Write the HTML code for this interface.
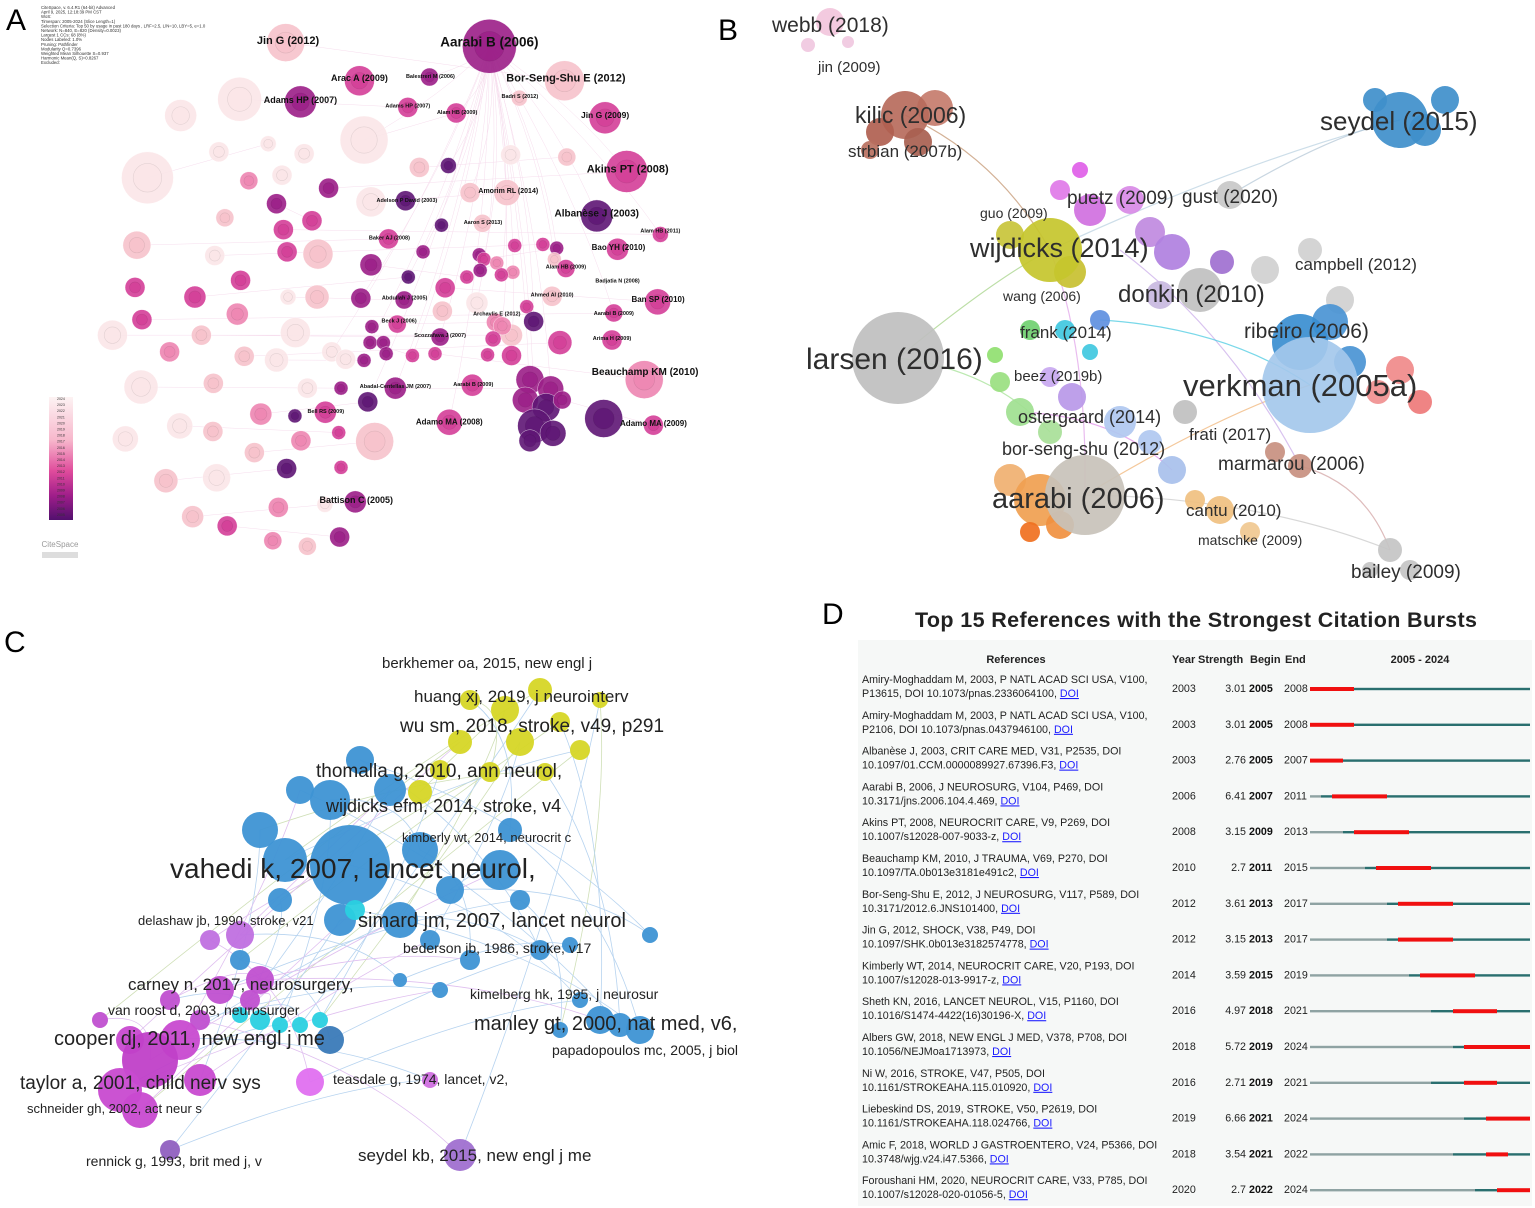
<!DOCTYPE html>
<html><head><meta charset="utf-8"><style>
html,body{margin:0;padding:0;background:#fff}
svg{display:block}
text{font-family:"Liberation Sans",sans-serif}
</style></head><body>
<svg id="s" width="1535" height="1208" viewBox="0 0 1535 1208" xmlns="http://www.w3.org/2000/svg">
<rect width="1535" height="1208" fill="#fff"/>
<g id="pa"></g>
<g id="pb"></g>
<g id="pc"></g>
<g id="pd"></g>
<text x="6" y="30" font-size="30">A</text>
<text x="718" y="40" font-size="30">B</text>
<text x="4" y="652" font-size="30">C</text>
<text x="822" y="624" font-size="30">D</text>
</svg>
<script>
const NS="http://www.w3.org/2000/svg";
function mk(p,t,a){const e=document.createElementNS(NS,t);for(const k in a)e.setAttribute(k,a[k]);p.appendChild(e);return e;}
// ---------- Panel A ----------
const aPal={w:"#fbe6e8",l:"#f7c3cc",p:"#ee86b2",m:"#d43f98",d:"#9c1f88",u:"#5f1675"};
const aNodes=[[1062,125,27,"d"],[620,115,19,"l"],[780,218,15,"m"],[932,208,9,"d"],[1225,218,20,"l"],[520,268,22,"w"],[652,275,16,"d"],[392,312,16,"w"],[885,290,10,"m"],[990,305,10,"m"],[1127,265,8,"l"],[1313,318,16,"m"],[790,378,24,"w"],[582,388,8,"w"],[475,410,10,"w"],[660,415,10,"w"],[320,480,26,"w"],[910,452,10,"l"],[973,447,8,"u"],[1108,418,10,"w"],[1230,424,9,"l"],[1360,463,21,"m"],[540,488,9,"p"],[612,473,10,"w"],[713,508,10,"d"],[805,545,15,"w"],[880,542,10,"u"],[1020,520,10,"l"],[1100,520,13,"l"],[600,550,10,"d"],[1295,583,16,"u"],[488,588,9,"l"],[677,596,10,"m"],[615,620,10,"m"],[958,608,7,"u"],[1047,603,9,"l"],[1433,633,8,"m"],[297,662,14,"l"],[623,680,10,"m"],[690,686,15,"l"],[843,645,10,"m"],[466,690,10,"w"],[918,680,7,"d"],[1117,663,7,"m"],[1178,660,7,"m"],[1208,670,7,"d"],[1340,673,11,"m"],[1040,688,7,"d"],[1050,700,7,"m"],[1078,710,7,"p"],[1113,735,7,"p"],[1088,742,7,"m"],[1042,730,7,"d"],[1013,748,7,"m"],[1203,700,7,"l"],[1228,725,9,"m"],[805,715,11,"d"],[886,748,7,"u"],[293,776,10,"m"],[522,757,10,"m"],[423,802,11,"m"],[625,802,8,"w"],[688,802,12,"l"],[783,805,10,"d"],[877,810,9,"d"],[966,777,10,"m"],[1035,818,11,"w"],[1198,800,10,"l"],[1427,815,13,"m"],[1332,845,9,"m"],[1143,828,7,"m"],[515,848,11,"p"],[308,863,10,"m"],[862,875,9,"m"],[960,840,10,"l"],[1158,868,10,"u"],[1075,870,9,"p"],[1110,905,11,"l"],[1090,880,9,"p"],[1070,915,8,"m"],[244,905,15,"w"],[437,905,10,"l"],[641,898,15,"w"],[807,882,7,"d"],[955,910,9,"d"],[1215,925,12,"m"],[1328,918,10,"m"],[368,950,10,"p"],[530,962,10,"l"],[600,972,12,"w"],[720,950,10,"w"],[750,970,10,"w"],[790,973,7,"d"],[803,925,7,"d"],[832,925,7,"d"],[838,955,7,"d"],[895,960,7,"m"],[944,955,7,"m"],[1058,958,7,"m"],[1110,960,10,"m"],[1398,1025,19,"p"],[306,1045,17,"w"],[463,1035,10,"l"],[667,1048,10,"w"],[740,1048,7,"d"],[858,1048,11,"d"],[1025,1040,11,"m"],[1150,1025,14,"d"],[1195,1050,13,"d"],[1140,1080,13,"d"],[1185,1100,14,"u"],[1160,1150,17,"u"],[1200,1170,13,"u"],[1220,1080,9,"d"],[1150,1190,11,"u"],[1310,1130,19,"u"],[1418,1148,10,"m"],[798,1085,10,"u"],[706,1113,11,"m"],[640,1123,7,"u"],[566,1118,11,"p"],[390,1150,13,"w"],[462,1165,10,"l"],[975,1140,13,"m"],[735,1168,7,"m"],[813,1192,19,"l"],[272,1185,13,"w"],[653,1190,10,"p"],[552,1222,10,"l"],[622,1265,10,"u"],[740,1262,7,"m"],[470,1290,14,"w"],[360,1298,12,"l"],[771,1355,11,"d"],[705,1362,8,"w"],[604,1370,10,"p"],[418,1395,11,"l"],[493,1420,10,"m"],[592,1460,9,"p"],[667,1475,9,"l"],[737,1450,10,"d"]];
const aLabels=[["Aarabi B (2006)",1062,113,13.5],["Jin G (2012)",625,108,11],["Arac A (2009)",780,210,9],["Balestreri M (2006)",934,205,5.5],["Bor-Seng-Shu E (2012)",1228,210,11],["Adams HP (2007)",652,270,9],["Adams HP (2007)",885,285,5.5],["Alam HB (2009)",992,302,5.5],["Badri S (2012)",1128,260,5.5],["Jin G (2009)",1313,311,8.5],["Akins PT (2008)",1362,455,11],["Amorim RL (2014)",1103,515,7],["Adelson P David (2003)",883,540,5.5],["Albanèse J (2003)",1295,575,10],["Aaron S (2013)",1048,600,5.5],["Alam HB (2011)",1433,623,5.5],["Baker AJ (2008)",845,642,5.5],["Bao YH (2010)",1342,668,8],["Alam HB (2009)",1228,720,5.5],["Badjatia N (2008)",1340,757,5.5],["Abdullah J (2005)",878,803,5.5],["Ahmed AI (2010)",1198,795,5.5],["Ban SP (2010)",1428,808,8],["Aarabi B (2009)",1332,845,5.5],["Archavlis E (2012)",1078,847,5.5],["Beck J (2006)",866,866,5.5],["Scozzafava J (2007)",955,905,5.5],["Arima H (2009)",1328,913,5.5],["Beauchamp KM (2010)",1400,1003,10],["Abadal-Centellas JM (2007)",858,1043,5.5],["Aarabi B (2009)",1027,1037,5.5],["Bell RS (2009)",707,1110,5.5],["Adamo MA (2008)",975,1138,8],["Adamo MA (2009)",1418,1143,8],["Battison C (2005)",773,1350,9]];
(function(){
 const g=document.getElementById('pa');
 const X=v=>v/2.17, Y=v=>v/2.7;
 const eg=mk(g,'g',{stroke:"#e9a9d2","stroke-width":"0.5",opacity:"0.4",fill:"none"});
 aNodes.forEach((n,i)=>{ if(X(n[0])>330 && i%3===0){const p=mk(eg,'path',{d:`M${X(1062)},${Y(125)} Q${(X(1062)+X(n[0]))/2+20},${(Y(125)+Y(n[1]))/2} ${X(n[0])},${Y(n[1])}`});
  }
  if(i%4===0 && i>3){const m=aNodes[i-3];const l=mk(eg,'line',{x1:X(n[0]),y1:Y(n[1]),x2:X(m[0]),y2:Y(m[1])});
  }});
 aNodes.forEach(n=>{const c=mk(g,'circle',{cx:X(n[0]),cy:Y(n[1]),r:n[2],fill:aPal[n[3]],opacity:"0.9",stroke:"#fff","stroke-width":"0.4"});
  
  const c2=mk(g,'circle',{cx:X(n[0]),cy:Y(n[1]),r:n[2]*0.55,fill:aPal[n[3]],opacity:"0.8",stroke:"rgba(0,0,0,0.12)","stroke-width":"0.6"});
  });
 aLabels.forEach(l=>{const t=mk(g,'text',{x:X(l[1]),y:Y(l[2])+l[3]*0.35,"font-size":l[3],"font-weight":"bold","text-anchor":"middle",fill:"#111"});t.textContent=l[0];
  });
 const info=["CiteSpace, v. 6.4.R1 (64-bit) Advanced","April 9, 2025, 12:18:39 PM CST","WoS:","Timespan: 2005-2024 (Slice Length=1)","Selection Criteria: Top 50 by usage in past 180 days , LRF=2.5, L/N=10, LBY=5, e=1.0","Network: N=840, E=820 (Density=0.0023)","Largest 1 CCs: 68 (8%)","Nodes Labeled: 1.0%","Pruning: Pathfinder","Modularity Q=0.7396","Weighted Mean Silhouette S=0.937","Harmonic Mean(Q, S)=0.8267","Excluded:"];
 info.forEach((s,i)=>{const t=mk(g,'text',{x:41,y:9+i*4.6,"font-size":"4.3",fill:"#333"});t.textContent=s;});
 const defs=mk(g,'defs',{});const lg=mk(defs,'linearGradient',{id:"yrg",x1:0,y1:0,x2:0,y2:1});
 [["0","#fdf3f3"],["0.35","#f7b7cc"],["0.6","#e04c9c"],["0.8","#a01e8a"],["1","#52106e"]].forEach(s=>mk(lg,'stop',{offset:s[0],"stop-color":s[1]}));
 const cb=mk(g,'rect',{x:49,y:397,width:24,height:123,fill:"url(#yrg)"});
 for(let i=0;i<20;i++){const t=mk(g,'text',{x:57,y:400+i*6.1,"font-size":"3.5",fill:"#333"});t.textContent=2024-i;}
 const lo=mk(g,'text',{x:60,y:547,"font-size":"8","text-anchor":"middle",fill:"#999"});lo.textContent="CiteSpace";
 mk(g,'rect',{x:42,y:552,width:36,height:6,fill:"#ddd"});
})();
// ---------- Panel B ----------
const bNodes=[[830,22,14,"#f2c6dc"],[808,45,7,"#f0c8e0"],[848,42,6,"#f0c8e0"],[935,108,18,"#c57c6c"],[905,115,24,"#b76b5c"],[880,132,14,"#b06050"],[918,142,14,"#a86050"],[870,150,9,"#b87060"],[1375,100,12,"#3f8fcb"],[1445,100,14,"#3f8fcb"],[1425,130,16,"#3f8fcb"],[1400,120,28,"#3f8fcb"],[1060,190,10,"#e07ae8"],[1080,170,8,"#e060e8"],[1090,210,16,"#d070e0"],[1130,200,14,"#d88ae6"],[1150,232,15,"#c08ae0"],[1172,252,18,"#b080e0"],[1222,262,12,"#a070d0"],[1230,195,14,"#c8c8c8"],[1010,235,14,"#c8c43a"],[1070,272,16,"#c8c030"],[1050,250,32,"#c6c52c"],[1265,270,14,"#d0d0d0"],[1310,250,12,"#d0d0d0"],[1340,300,14,"#d0d0d0"],[1160,295,14,"#c8b8e0"],[1200,290,22,"#c0c0c0"],[1330,322,18,"#4a94d4"],[1300,342,28,"#3a8ed0"],[1350,362,16,"#4a94d4"],[1400,370,14,"#f08a8a"],[1420,402,12,"#ee7a7a"],[1378,392,12,"#f09090"],[1310,385,48,"#a4c8ec"],[898,358,46,"#bfbfbf"],[995,355,8,"#90e070"],[1030,330,10,"#70d070"],[1000,382,10,"#9ae080"],[1020,412,14,"#a0e090"],[1050,432,12,"#a8e098"],[1065,330,10,"#40c8e0"],[1090,352,8,"#40c8e0"],[1100,320,10,"#6090e0"],[1050,377,10,"#c8a8f0"],[1072,397,14,"#b898e8"],[1120,422,16,"#b0c8f0"],[1150,442,12,"#b0c8f0"],[1172,470,14,"#a8c0ec"],[1185,412,12,"#c0c0c0"],[1010,480,16,"#f0b070"],[1040,500,26,"#f0a050"],[1060,525,14,"#f09040"],[1030,532,10,"#f07020"],[1085,495,40,"#c8c2ba"],[1195,500,10,"#f0c080"],[1220,510,14,"#f0c080"],[1250,532,10,"#f0c890"],[1275,452,10,"#c89080"],[1300,466,12,"#c89080"],[1370,570,8,"#c4c4c4"],[1390,550,12,"#c4c4c4"],[1410,570,10,"#c4c4c4"]];
const bLabels=[["webb (2018)",772,32,21],["jin (2009)",818,72,15],["kilic (2006)",855,123,23],["strbian (2007b)",848,157,17],["seydel (2015)",1320,130,26],["puetz (2009)",1067,204,19],["gust (2020)",1182,203,19],["guo (2009)",980,218,14],["wijdicks (2014)",970,257,27],["campbell (2012)",1295,270,17],["donkin (2010)",1118,302,24],["wang (2006)",1003,301,14],["ribeiro (2006)",1244,338,21],["frank (2014)",1020,338,17],["larsen (2016)",806,369,30],["verkman (2005a)",1183,396,31],["beez (2019b)",1014,381,15],["ostergaard (2014)",1018,423,18],["frati (2017)",1189,440,17],["bor-seng-shu (2012)",1002,455,18],["marmarou (2006)",1218,470,19],["aarabi (2006)",992,508,29],["cantu (2010)",1186,516,17],["matschke (2009)",1198,545,14],["bailey (2009)",1351,578,19]];
(function(){
 const g=document.getElementById('pb');
 const ed=[[905,115,1050,250,"#c0906a"],[1050,250,1400,120,"#b8d0e0"],[1230,195,1400,120,"#b0c4d4"],[1050,250,898,358,"#a0d080"],[1085,495,1310,385,"#f0b070"],[1085,495,1390,550,"#c8c8c8"],[1120,250,1300,466,"#c8a8e8"],[1050,250,1085,495,"#e0a0e8"],[1100,320,1310,385,"#40c8e0"],[1300,466,1390,550,"#d0a0a0"],[1020,412,1172,470,"#e08ae8"],[898,358,1050,432,"#a0e090"]];
 ed.forEach(e=>{const p=mk(g,'path',{d:`M${e[0]},${e[1]} Q${(e[0]+e[2])/2+20},${(e[1]+e[3])/2-25} ${e[2]},${e[3]}`,stroke:e[4],"stroke-width":"1.2",fill:"none",opacity:"0.7"});
  });
 bNodes.forEach(n=>{const c=mk(g,'circle',{cx:n[0],cy:n[1],r:n[2],fill:n[3],opacity:"0.92"});});
 bLabels.forEach(l=>{const t=mk(g,'text',{x:l[1],y:l[2],"font-size":l[3],fill:"#2e2e2e"});t.textContent=l[0];});
})();
// ---------- Panel C ----------
const cNodes=[[470,700,10,"#d6d626"],[540,690,12,"#d6d626"],[505,710,14,"#d6d626"],[560,722,10,"#d6d626"],[600,700,8,"#d6d626"],[520,742,14,"#d6d626"],[460,742,12,"#d6d626"],[580,750,10,"#d6d626"],[440,770,10,"#d6d626"],[420,792,12,"#d6d626"],[545,772,9,"#d6d626"],[490,772,10,"#d6d626"],[360,760,14,"#3e93d4"],[300,790,14,"#3e93d4"],[330,800,20,"#3e93d4"],[390,790,16,"#3e93d4"],[260,830,18,"#3e93d4"],[510,830,12,"#3e93d4"],[285,860,22,"#3e93d4"],[420,850,18,"#3e93d4"],[500,870,20,"#3e93d4"],[450,890,14,"#3e93d4"],[350,865,40,"#3e93d4"],[280,900,12,"#3e93d4"],[520,900,10,"#3e93d4"],[400,920,18,"#3e93d4"],[340,920,16,"#3e93d4"],[430,940,10,"#3e93d4"],[650,935,8,"#3e93d4"],[470,960,10,"#3e93d4"],[540,950,10,"#3e93d4"],[570,945,8,"#3e93d4"],[240,960,10,"#3e93d4"],[400,980,7,"#3e93d4"],[440,990,8,"#3e93d4"],[580,1000,8,"#3e93d4"],[600,1020,14,"#3e93d4"],[620,1025,12,"#3e93d4"],[640,1030,14,"#3e93d4"],[560,1030,8,"#3e93d4"],[330,1040,14,"#3a7ab8"],[355,910,10,"#2ad0e0"],[240,1015,8,"#2ad0e0"],[260,1020,10,"#2ad0e0"],[280,1025,8,"#2ad0e0"],[300,1025,8,"#2ad0e0"],[320,1020,8,"#2ad0e0"],[240,935,14,"#c070e0"],[210,940,10,"#c070e0"],[220,990,14,"#c050d0"],[260,980,14,"#c050d0"],[250,1000,10,"#c050d0"],[170,1000,10,"#c050d0"],[100,1020,8,"#c050d0"],[200,1020,10,"#c050d0"],[130,1040,14,"#c84ad0"],[180,1040,20,"#c84ad0"],[150,1060,28,"#c040c8"],[200,1080,16,"#c84ad0"],[120,1090,22,"#c84ad0"],[140,1110,18,"#c84ad0"],[310,1082,14,"#e070f0"],[430,1080,8,"#d070e0"],[170,1150,10,"#9060c0"],[460,1155,16,"#a070d0"]];
const cLabels=[["berkhemer oa, 2015, new engl j",382,668,15],["huang xj, 2019, j neurointerv",414,702,17],["wu sm, 2018, stroke, v49, p291",400,732,19],["thomalla g, 2010, ann neurol,",316,777,19],["wijdicks efm, 2014, stroke, v4",326,812,18],["kimberly wt, 2014, neurocrit c",402,842,13],["vahedi k, 2007, lancet neurol,",170,878,28],["delashaw jb, 1990, stroke, v21",138,925,13],["simard jm, 2007, lancet neurol",358,927,20],["bederson jb, 1986, stroke, v17",403,953,14],["carney n, 2017, neurosurgery,",128,990,17],["van roost d, 2003, neurosurger",108,1015,14],["kimelberg hk, 1995, j neurosur",470,999,14],["manley gt, 2000, nat med, v6,",474,1030,20],["cooper dj, 2011, new engl j me",54,1045,20],["papadopoulos mc, 2005, j biol",552,1055,14],["taylor a, 2001, child nerv sys",20,1089,19],["teasdale g, 1974, lancet, v2,",333,1084,14],["schneider gh, 2002, act neur s",27,1113,13],["rennick g, 1993, brit med j, v",86,1166,14],["seydel kb, 2015, new engl j me",358,1161,17]];
(function(){
 const g=document.getElementById('pc');
 const eg=mk(g,'g',{fill:"none","stroke-width":"0.8",opacity:"0.5"});
 cNodes.forEach((n,i)=>{const m=cNodes[(i*7+11)%cNodes.length];const col=n[3]==="#d6d626"?"#a0c070":(n[3].startsWith("#c")||n[3].startsWith("#e")?"#c080e0":"#70a8e0");
  const p=mk(eg,'path',{d:`M${n[0]},${n[1]} Q${(n[0]+m[0])/2+30},${(n[1]+m[1])/2-30} ${m[0]},${m[1]}`,stroke:col});
  });
 cNodes.forEach(n=>{const c=mk(g,'circle',{cx:n[0],cy:n[1],r:n[2],fill:n[3],opacity:"0.95"});});
 cLabels.forEach(l=>{const t=mk(g,'text',{x:l[1],y:l[2],"font-size":l[3],fill:"#222"});t.textContent=l[0];});
})();
// ---------- Panel D ----------
const refL1=["Amiry-Moghaddam M, 2003, P NATL ACAD SCI USA, V100,","Amiry-Moghaddam M, 2003, P NATL ACAD SCI USA, V100,","Albanèse J, 2003, CRIT CARE MED, V31, P2535, DOI","Aarabi B, 2006, J NEUROSURG, V104, P469, DOI","Akins PT, 2008, NEUROCRIT CARE, V9, P269, DOI","Beauchamp KM, 2010, J TRAUMA, V69, P270, DOI","Bor-Seng-Shu E, 2012, J NEUROSURG, V117, P589, DOI","Jin G, 2012, SHOCK, V38, P49, DOI","Kimberly WT, 2014, NEUROCRIT CARE, V20, P193, DOI","Sheth KN, 2016, LANCET NEUROL, V15, P1160, DOI","Albers GW, 2018, NEW ENGL J MED, V378, P708, DOI","Ni W, 2016, STROKE, V47, P505, DOI","Liebeskind DS, 2019, STROKE, V50, P2619, DOI","Amic F, 2018, WORLD J GASTROENTERO, V24, P5366, DOI","Foroushani HM, 2020, NEUROCRIT CARE, V33, P785, DOI"];
const refL2=["P13615, DOI 10.1073/pnas.2336064100, ","P2106, DOI 10.1073/pnas.0437946100, ","10.1097/01.CCM.0000089927.67396.F3, ","10.3171/jns.2006.104.4.469, ","10.1007/s12028-007-9033-z, ","10.1097/TA.0b013e3181e491c2, ","10.3171/2012.6.JNS101400, ","10.1097/SHK.0b013e3182574778, ","10.1007/s12028-013-9917-z, ","10.1016/S1474-4422(16)30196-X, ","10.1056/NEJMoa1713973, ","10.1161/STROKEAHA.115.010920, ","10.1161/STROKEAHA.118.024766, ","10.3748/wjg.v24.i47.5366, ","10.1007/s12028-020-01056-5, "];
const years=[2003,2003,2003,2006,2008,2010,2012,2012,2014,2016,2018,2016,2019,2018,2020];
const strengths=["3.01","3.01","2.76","6.41","3.15","2.7","3.61","3.15","3.59","4.97","5.72","2.71","6.66","3.54","2.7"];
const begins=[2005,2005,2005,2007,2009,2011,2013,2013,2015,2018,2019,2019,2021,2021,2022];
const ends=[2008,2008,2007,2011,2013,2015,2017,2017,2019,2021,2024,2021,2024,2022,2024];
(function(){
 const g=document.getElementById('pd');
 const bg=mk(g,'rect',{x:858,y:640,width:674,height:566,fill:"#f6f8f7"});
 const ti=mk(g,'text',{x:1196,y:627,"font-size":"21.5","font-weight":"bold","text-anchor":"middle",fill:"#222",textLength:"562"});ti.textContent="Top 15 References with the Strongest Citation Bursts";
 
 const hd=[["References",1016,"middle"],["Year",1172,"start"],["Strength",1198,"start"],["Begin",1250,"start"],["End",1285,"start"],["2005 - 2024",1420,"middle"]];
 hd.forEach(h=>{const t=mk(g,'text',{x:h[1],y:663,"font-size":"11","font-weight":"bold","text-anchor":h[2],fill:"#222"});t.textContent=h[0];});
 const x0=1310,yw=11,Y0=689,DY=35.8;
 const xs=y=>x0+(y-2005)*yw;
 refL1.forEach((s,i)=>{
  const y=Y0+i*DY;
  const t1=mk(g,'text',{x:862,y:y-6,"font-size":"10.7",fill:"#222"});t1.textContent=s;
  const t2=mk(g,'text',{x:862,y:y+8,"font-size":"10.7",fill:"#222"});t2.textContent=refL2[i];
  
  const a=mk(t2,'tspan',{fill:"#1a1aff","text-decoration":"underline"});a.textContent="DOI";
  const ty=mk(g,'text',{x:1172,y:y+3,"font-size":"10.7",fill:"#222"});ty.textContent=years[i];
  const ts=mk(g,'text',{x:1246,y:y+3,"font-size":"10.7","text-anchor":"end",fill:"#222"});ts.textContent=strengths[i];
  const tb=mk(g,'text',{x:1249,y:y+3,"font-size":"10.7","font-weight":"bold",fill:"#111"});tb.textContent=begins[i];
  const te=mk(g,'text',{x:1284,y:y+3,"font-size":"10.7",fill:"#222"});te.textContent=ends[i];
  const gy=Math.max(years[i],2005);
  const r0=mk(g,'rect',{x:x0,y:y-1.2,width:xs(gy)-x0,height:2.4,fill:"#8fa3a3"});
  const r1=mk(g,'rect',{x:xs(gy),y:y-1.2,width:xs(2025)-xs(gy),height:2.4,fill:"#2a6f6f"});
  const r2=mk(g,'rect',{x:xs(begins[i]),y:y-2,width:xs(ends[i]+1)-xs(begins[i]),height:4,fill:"#f01010"});
 });
})();
</script>
</body></html>
